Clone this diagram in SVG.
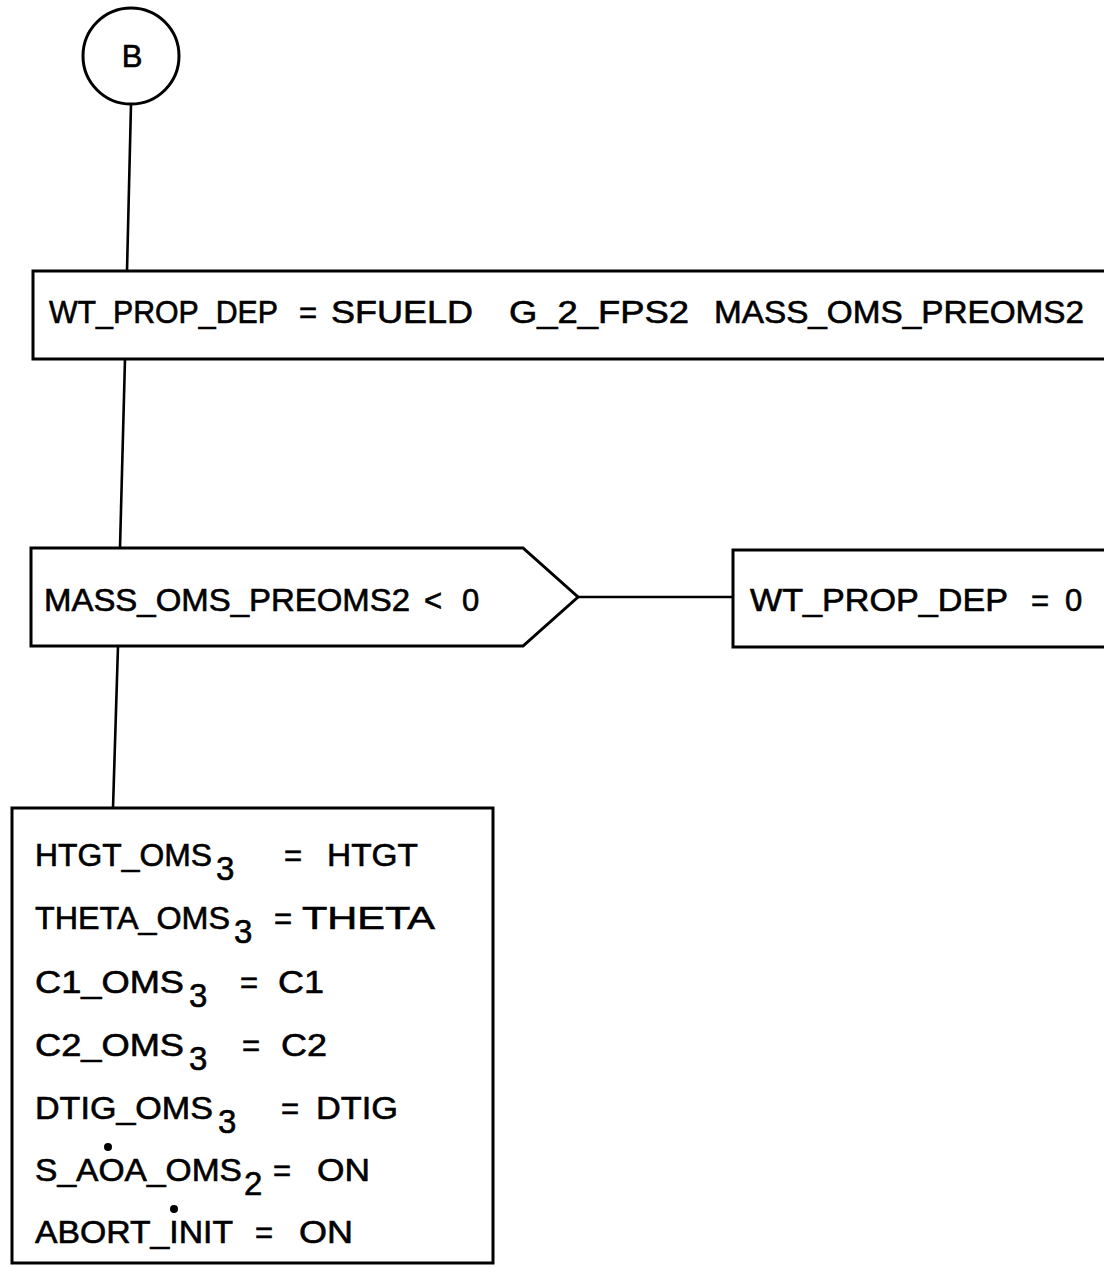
<svg xmlns="http://www.w3.org/2000/svg" width="1104" height="1267" viewBox="0 0 1104 1267">
<style>
.shape{fill:#fff;stroke:#000;stroke-width:3}
.conn{fill:none;stroke:#000;stroke-width:2.6}
text{font-family:"Liberation Sans",Arial,"Helvetica",sans-serif;fill:#000;stroke:#000;stroke-width:0.6}
.t{font-size:31px}
.b{font-size:31px}
.s{font-size:33px}
.dot{fill:#000}
</style>
<rect width="1104" height="1267" fill="#fff"/>
<g id="connectors">
<line class="conn" x1="131" y1="104" x2="127" y2="271"/>
<line class="conn" x1="125" y1="359" x2="120" y2="548"/>
<line class="conn" x1="578" y1="597" x2="733" y2="597"/>
<line class="conn" x1="118" y1="646" x2="113" y2="808"/>
</g>
<g id="node-B">
<circle class="shape" cx="131" cy="56" r="48"/>
<text x="132" y="67" font-size="31" text-anchor="middle">B</text>
</g>
<g id="node-wt-prop-dep">
<rect class="shape" x="33" y="271" width="1100" height="88"/>
<text class="t" x="49" y="323" textLength="229" lengthAdjust="spacingAndGlyphs">WT_PROP_DEP</text>
<text class="t" x="299" y="323">=</text>
<text class="t" x="331" y="323" textLength="142" lengthAdjust="spacingAndGlyphs">SFUELD</text>
<text class="t" x="509" y="323" textLength="180" lengthAdjust="spacingAndGlyphs">G_2_FPS2</text>
<text class="t" x="714" y="323" textLength="370" lengthAdjust="spacingAndGlyphs">MASS_OMS_PREOMS2</text>
</g>
<g id="node-decision">
<path class="shape" d="M31 548 L523 548 L578 597 L523 646 L31 646 Z"/>
<text class="t" x="44" y="611" textLength="366" lengthAdjust="spacingAndGlyphs">MASS_OMS_PREOMS2</text>
<text class="t" x="424" y="611">&lt;</text>
<text class="t" x="462" y="611">0</text>
</g>
<g id="node-wt-zero">
<rect class="shape" x="733" y="550" width="400" height="97"/>
<text class="t" x="750" y="611" textLength="258" lengthAdjust="spacingAndGlyphs">WT_PROP_DEP</text>
<text class="t" x="1031" y="611">=</text>
<text class="t" x="1065" y="611">0</text>
</g>
<g id="node-assign">
<rect class="shape" x="12" y="808" width="481" height="455"/>
<text class="b" x="35" y="866" textLength="177" lengthAdjust="spacingAndGlyphs">HTGT_OMS</text>
<text class="s" x="216" y="880">3</text>
<text class="b" x="284" y="866">=</text>
<text class="b" x="327" y="866" textLength="91" lengthAdjust="spacingAndGlyphs">HTGT</text>

<text class="b" x="35" y="929" textLength="195" lengthAdjust="spacingAndGlyphs">THETA_OMS</text>
<text class="s" x="234" y="943">3</text>
<text class="b" x="274" y="929">=</text>
<text class="b" x="302" y="929" textLength="133" lengthAdjust="spacingAndGlyphs">THETA</text>

<text class="b" x="35" y="993" textLength="149" lengthAdjust="spacingAndGlyphs">C1_OMS</text>
<text class="s" x="189" y="1007">3</text>
<text class="b" x="240" y="993">=</text>
<text class="b" x="278" y="993" textLength="46" lengthAdjust="spacingAndGlyphs">C1</text>

<text class="b" x="35" y="1056" textLength="149" lengthAdjust="spacingAndGlyphs">C2_OMS</text>
<text class="s" x="189" y="1070">3</text>
<text class="b" x="242" y="1056">=</text>
<text class="b" x="281" y="1056" textLength="46" lengthAdjust="spacingAndGlyphs">C2</text>

<text class="b" x="35" y="1119" textLength="178" lengthAdjust="spacingAndGlyphs">DTIG_OMS</text>
<text class="s" x="218" y="1133">3</text>
<text class="b" x="281" y="1119">=</text>
<text class="b" x="316" y="1119" textLength="82" lengthAdjust="spacingAndGlyphs">DTIG</text>

<text class="b" x="35" y="1181" textLength="207" lengthAdjust="spacingAndGlyphs">S_AOA_OMS</text>
<text class="s" x="244" y="1195">2</text>
<text class="b" x="273" y="1181">=</text>
<text class="b" x="317" y="1181" textLength="53" lengthAdjust="spacingAndGlyphs">ON</text>
<circle class="dot" cx="108" cy="1147" r="4"/>

<text class="b" x="35" y="1243" textLength="198" lengthAdjust="spacingAndGlyphs">ABORT_INIT</text>
<text class="b" x="255" y="1243">=</text>
<text class="b" x="299" y="1243" textLength="54" lengthAdjust="spacingAndGlyphs">ON</text>
<circle class="dot" cx="174" cy="1209" r="4"/>
</g>
</svg>
